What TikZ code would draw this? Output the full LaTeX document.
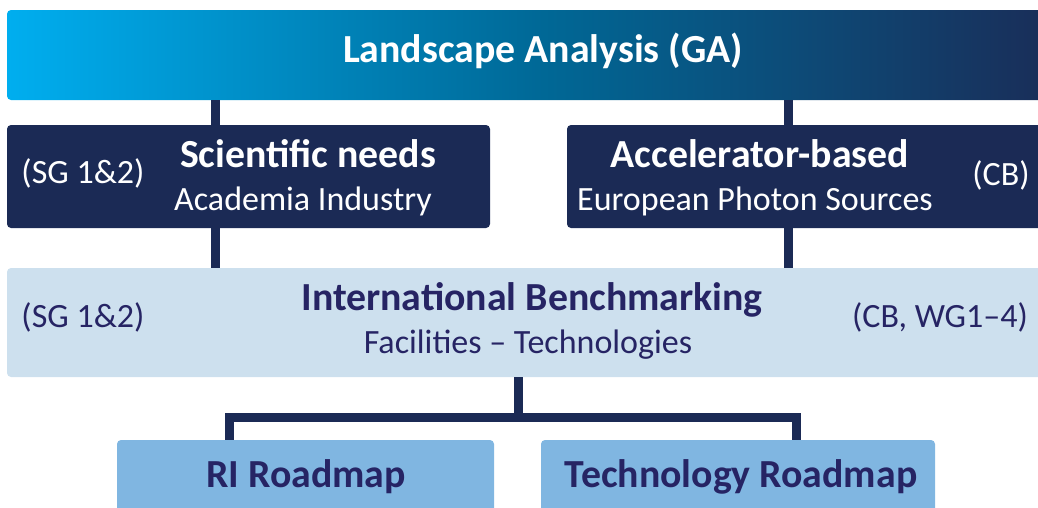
\documentclass[tikz,border=0pt]{standalone}
\usepackage{fontspec}
\setmainfont{Carlito}
\definecolor{navy}{RGB}{27,42,85}
\definecolor{cyanl}{RGB}{0,174,239}
\definecolor{midb}{RGB}{0,104,150}
\definecolor{benchbg}{RGB}{205,224,238}
\definecolor{roadbg}{RGB}{128,182,225}
\definecolor{ink}{RGB}{38,36,100}
\tikzset{
  box/.style={rectangle, rounded corners=4pt, draw=none, inner sep=0pt},
  conn/.style={draw=navy, line width=9pt},
  big/.style={font=\fontsize{39.8}{44}\selectfont\bfseries, inner sep=0pt, anchor=base},
  small/.style={font=\fontsize{34}{38}\selectfont, inner sep=0pt, anchor=base},
}
\begin{document}
\begin{tikzpicture}[x=1pt,y=-1pt]
\useasboundingbox (0,0) rectangle (1038,507);
\clip (0,0) rectangle (1038,507);
% boxes
\node[box, left color=cyanl, right color=navy, middle color=midb, minimum width=1073pt, minimum height=90pt] (top) at (543.5,55) {};
\node[box, fill=navy, minimum width=483pt, minimum height=103pt] (sci) at (248.5,176.5) {};
\node[box, fill=navy, minimum width=513pt, minimum height=103pt] (acc) at (823.5,176.5) {};
\node[box, fill=benchbg, minimum width=1073pt, minimum height=109pt] (bench) at (543.5,322.5) {};
\node[box, fill=roadbg, minimum width=377pt, minimum height=90pt] (ri) at (305.5,485) {};
\node[box, fill=roadbg, minimum width=394pt, minimum height=90pt] (tech) at (738,485) {};
% connector positions
\coordinate (cl) at (215.5,0);
\coordinate (cr) at (788,0);
\coordinate (cm) at (518,0);
\coordinate (jl) at (229.5,417);
\coordinate (jr) at (796,417);
\draw[conn] (top.south -| cl) -- (sci.north -| cl);
\draw[conn] (top.south -| cr) -- (acc.north -| cr);
\draw[conn] (sci.south -| cl) -- (bench.north -| cl);
\draw[conn] (acc.south -| cr) -- (bench.north -| cr);
\draw[conn] (bench.south -| cm) -- (cm |- jl);
\draw[conn, line join=miter] (ri.north -| jl) -- (jl) -- (jr) -- (tech.north -| jr);
% texts
\node[big, text=white] (t1) at (543,62) {Landscape Analysis (GA)};
\node[big, text=white] (t2) at (308,167) {Scientific needs};
\node[small, text=white] (t3) at (303,210) {Academia Industry};
\node[small, text=white] (t4) at (83,183) {(SG 1\&2)};
\node[big, text=white] (t5) at (760,167) {Accelerator-based};
\node[small, text=white] (t6) at (755,210) {European Photon Sources};
\node[small, text=white] (t7) at (1001,185) {(CB)};
\node[big, text=ink] (t8) at (532,310) {International Benchmarking};
\node[small, text=ink] (t9) at (528,353) {Facilities – Technologies};
\node[small, text=ink] (t10) at (83,327) {(SG 1\&2)};
\node[small, text=ink] (t11) at (940,327) {(CB, WG1–4)};
\node[big, text=ink] (t12) at (306,487) {RI Roadmap};
\node[big, text=ink] (t13) at (741,487) {Technology Roadmap};
\end{tikzpicture}
\end{document}
